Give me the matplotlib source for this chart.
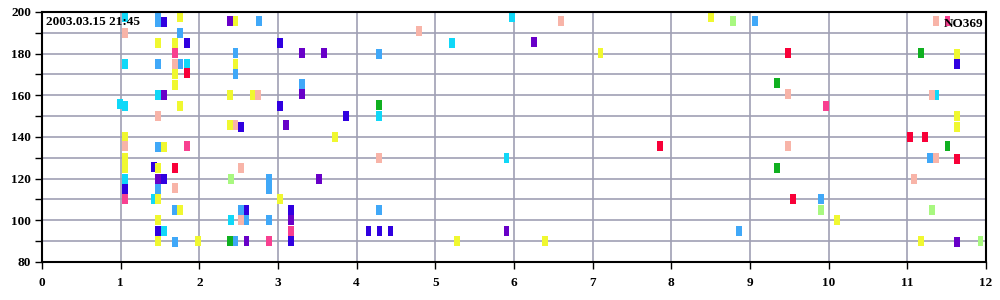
import matplotlib
matplotlib.use('Agg')
import matplotlib.pyplot as plt
from matplotlib.ticker import MultipleLocator

# marker positions, grouped by colour
cyan_x = [1.055, 1.055, 0.99, 1.057, 1.476, 1.839, 1.057, 1.42, 1.553, 2.40, 5.97, 5.21, 4.285, 5.905, 11.37]
cyan_y = [197.5, 175, 156, 155, 160, 175, 120, 110, 95, 100, 197.5, 185, 150, 130, 160]

lblue_x = [1.476, 1.476, 1.754, 1.756, 1.476, 2.754, 2.46, 2.46, 3.31, 1.476, 1.476, 1.69, 1.69,
           2.887, 2.887, 2.53, 2.60, 2.89, 2.46, 4.285, 4.285, 9.06, 11.29, 9.90, 8.86]
lblue_y = [195, 198, 190, 175, 175, 195.5, 180.5, 170.4, 165.6, 135, 115, 105, 89.5,
           120, 115, 105, 100, 100, 90, 180, 105, 195.5, 130, 110, 95]

blue_x = [1.553, 1.839, 3.03, 3.03, 2.53, 1.057, 1.42, 1.553, 1.476, 2.60, 3.17, 3.17, 3.87, 4.15, 4.29, 4.43, 11.63]
blue_y = [195, 185, 185, 155, 145, 115, 125.5, 120, 95, 105, 105, 90, 150, 95, 95, 95, 175]

purple_x = [2.386, 3.31, 3.59, 3.31, 1.553, 3.10, 1.476, 3.52, 3.17, 2.60, 6.25, 5.905, 11.63]
purple_y = [195.5, 180.5, 180.5, 160.4, 160, 145.5, 120, 120, 100, 90, 185.4, 95, 89.5]

yellow_x = [1.758, 1.476, 1.69, 1.69, 1.69, 2.46, 2.46, 2.39, 2.68, 1.756, 2.39, 3.73, 1.057, 1.057,
            1.057, 1.553, 1.476, 1.476, 1.756, 1.476, 1.476, 1.98, 3.03, 7.10, 5.27, 6.39, 8.50,
            11.63, 11.63, 11.63, 10.11, 11.17]
yellow_y = [197.8, 185, 185, 170, 165, 195.5, 175, 160, 160, 155, 145.5, 140, 140, 130,
            125, 135, 125, 110, 105, 100, 90, 90, 110, 180.5, 90, 90, 197.5,
            180, 150, 145, 100, 90]

salmon_x = [1.057, 1.69, 2.75, 1.476, 2.46, 1.06, 1.69, 2.53, 2.53, 4.79, 6.60, 4.285, 11.37,
            9.48, 11.31, 9.48, 11.37, 11.09]
salmon_y = [190, 175, 160, 150, 145.5, 135.5, 115.5, 125, 100, 190.7, 195.5, 130, 195.5,
            160.4, 160, 135.5, 130, 120]

pink_x = [1.69, 1.057, 1.839, 3.17, 2.89, 11.51, 9.97]
pink_y = [180.4, 110, 135.5, 95, 90, 195.5, 155]

red_x = [1.839, 1.69, 7.86, 9.48, 11.03, 11.23, 11.63, 9.55]
red_y = [170.5, 125, 135.5, 180.5, 140, 140, 129.5, 110]

green_x = [4.285, 2.39, 11.17, 9.34, 11.51, 9.34]
green_y = [155.2, 90, 180.5, 165.7, 135.5, 125]

lgreen_x = [2.40, 8.78, 9.90, 11.31, 11.93]
lgreen_y = [120, 195.5, 105, 105, 90]

groups = [
    (cyan_x, cyan_y, '#10D8F8'),
    (lblue_x, lblue_y, '#40A8F8'),
    (blue_x, blue_y, '#3000E0'),
    (purple_x, purple_y, '#6800C8'),
    (yellow_x, yellow_y, '#F0F830'),
    (salmon_x, salmon_y, '#F8B4A8'),
    (pink_x, pink_y, '#F84090'),
    (red_x, red_y, '#F80038'),
    (green_x, green_y, '#10B020'),
    (lgreen_x, lgreen_y, '#A8F880'),
]

plt.rcParams['font.family'] = ['Liberation Serif', 'DejaVu Serif']
plt.rcParams['font.weight'] = 'bold'

fig = plt.figure(figsize=(10, 3), dpi=100)
ax = fig.add_axes([0.042, 0.127, 0.944, 0.833])

# each mark is a small upright block centred on its value
h = 4.8
w = 0.075
for xs, ys, c in groups:
    ax.bar(xs, [h] * len(ys), bottom=[v - h / 2 for v in ys], width=w, color=c, zorder=3, linewidth=0)

ax.set_xlim(0, 12)
ax.set_ylim(80, 200)
ax.set_xticks(range(13))
ax.yaxis.set_major_locator(MultipleLocator(20))
ax.yaxis.set_minor_locator(MultipleLocator(10))
ax.grid(True, which='both', color='#A0A0B4', linewidth=1.2, zorder=1)
ax.set_axisbelow(True)

ax.tick_params(axis='both', which='both', direction='out', length=5, width=1, labelsize=9.5, pad=3)
ax.tick_params(axis='x', pad=6)
for s in ax.spines.values():
    s.set_linewidth(1.5)
    s.set_color('black')
    s.set_zorder(4)

ax.text(0.004, 0.985, '2003.03.15 21:45', transform=ax.transAxes, ha='left', va='top',
        fontsize=9.5, fontweight='bold', zorder=5)
ax.text(0.997, 0.975, 'NO369', transform=ax.transAxes, ha='right', va='top',
        fontsize=9.5, fontweight='bold', zorder=5)

fig.savefig('out.png', dpi=100)
